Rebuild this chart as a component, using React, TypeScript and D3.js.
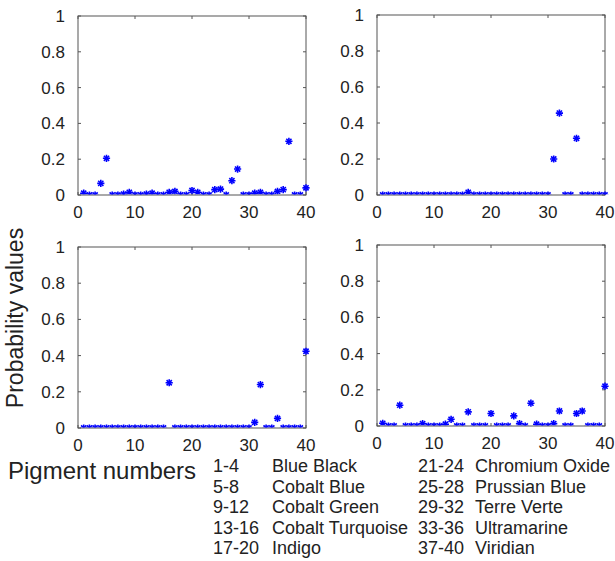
import React from "react";
import * as d3 from "d3";

const pigments: number[] = d3.range(1, 41);

const panel1Values: number[] = [0.01,0,0,0.065,0.205,0,0,0.005,0.015,0,0,0.005,0.01,0,0,0.015,0.02,0,0,0.025,0.015,0,0,0.03,0.033,0,0.08,0.145,0,0,0.01,0.015,0,0,0.02,0.03,0.30,0,0,0.04];
const panel2Values: number[] = [0,0,0,0,0,0,0,0,0,0,0,0,0,0,0,0.015,0,0,0,0,0,0,0,0,0,0,0,0,0,0,0.20,0.455,0,0,0.315,0,0,0,0,0];
const panel3Values: number[] = [0,0,0,0,0,0,0,0,0,0,0,0,0,0,0,0.25,0,0,0,0,0,0,0,0,0,0,0,0,0,0,0.031,0.24,0,0,0.053,0,0,0,0,0.424];
const panel4Values: number[] = [0.015,0,0,0.115,0,0,0,0.013,0,0,0,0.01,0.037,0,0,0.078,0,0,0,0.069,0,0,0,0.056,0.013,0,0.126,0.01,0,0,0.013,0.083,0,0,0.069,0.083,0,0,0,0.22];

const xTicks: number[] = [0, 10, 20, 30, 40];
const yTicks: number[] = [0, 0.2, 0.4, 0.6, 0.8, 1];

const legendRanges1: string[] = ["1-4", "5-8", "9-12", "13-16", "17-20"];
const legendNames1: string[] = ["Blue Black", "Cobalt Blue", "Cobalt Green", "Cobalt Turquoise", "Indigo"];
const legendRanges2: string[] = ["21-24", "25-28", "29-32", "33-36", "37-40"];
const legendNames2: string[] = ["Chromium Oxide", "Prussian Blue", "Terre Verte", "Ultramarine", "Viridian"];

const yLabel = "Probability values";
const xLabel = "Pigment numbers";

const panels = [
  { values: panel1Values, left: 78, right: 306, top: 16, bottom: 195 },
  { values: panel2Values, left: 377, right: 605, top: 15, bottom: 195 },
  { values: panel3Values, left: 78, right: 306, top: 247, bottom: 428 },
  { values: panel4Values, left: 377, right: 605, top: 245, bottom: 426 },
];

const FONT = "'Liberation Sans', Arial, sans-serif";
const AXIS = "#555";
const TEXT = "#222";
const BLUE = "#0000ff";

function fmt(v: number) {
  return v === 0 ? "0" : v === 1 ? "1" : String(v);
}

function Star({ x, y }: { x: number; y: number }) {
  const r = 3.6;
  const d = r * 0.72;
  return (
    <g stroke={BLUE} strokeWidth={1.6}>
      <line x1={x - r} y1={y} x2={x + r} y2={y} />
      <line x1={x} y1={y - r} x2={x} y2={y + r} />
      <line x1={x - d} y1={y - d} x2={x + d} y2={y + d} />
      <line x1={x - d} y1={y + d} x2={x + d} y2={y - d} />
    </g>
  );
}

function Panel({ p, idx }: { p: typeof panels[number]; idx: number }) {
  const x = d3.scaleLinear().domain([0, 40]).range([p.left, p.right]);
  const y = d3.scaleLinear().domain([0, 1]).range([p.bottom, p.top]);
  const tl = 3;
  const clipId = `clip${idx}`;
  return (
    <g>
      <defs>
        <clipPath id={clipId}>
          <rect x={p.left - 10} y={p.top - 10} width={p.right - p.left + 20} height={p.bottom - p.top + 9.2} />
        </clipPath>
      </defs>
      <rect x={p.left} y={p.top} width={p.right - p.left} height={p.bottom - p.top} fill="white" stroke={AXIS} strokeWidth={1} />
      {xTicks.map((t) => (
        <g key={"x" + t}>
          <line x1={x(t)} x2={x(t)} y1={p.bottom} y2={p.bottom - tl} stroke={AXIS} />
          <line x1={x(t)} x2={x(t)} y1={p.top} y2={p.top + tl} stroke={AXIS} />
          <text x={x(t)} y={p.bottom + 23} textAnchor="middle" fontSize={17} fill={TEXT} fontFamily={FONT}>
            {fmt(t)}
          </text>
        </g>
      ))}
      {yTicks.map((t) => (
        <g key={"y" + t}>
          <line x1={p.left} x2={p.left + tl} y1={y(t)} y2={y(t)} stroke={AXIS} />
          <line x1={p.right} x2={p.right - tl} y1={y(t)} y2={y(t)} stroke={AXIS} />
          <text x={p.left - 13} y={y(t) + 6} textAnchor="end" fontSize={17} fill={TEXT} fontFamily={FONT}>
            {fmt(t)}
          </text>
        </g>
      ))}
      <g clipPath={`url(#${clipId})`}>
        {p.values.map((v, i) => (
          <Star key={i} x={x(pigments[i])} y={y(v)} />
        ))}
      </g>
    </g>
  );
}

export default function App() {
  const rowY = (i: number) => 472 + i * 20.5;
  return (
    <svg width={615} height={561} style={{ position: "absolute", left: 0, top: 0 }} fontFamily={FONT}>
      <rect width={615} height={561} fill="white" />
      {panels.map((p, i) => (
        <Panel key={i} p={p} idx={i} />
      ))}
      <text transform="translate(23,318) rotate(-90)" textAnchor="middle" fontSize={23} fill={TEXT}>
        {yLabel}
      </text>
      <text x={8} y={479} fontSize={24} fill={TEXT}>
        {xLabel}
      </text>
      {legendRanges1.map((r, i) => (
        <g key={"l1" + i}>
          <text x={213} y={rowY(i)} fontSize={18} fill={TEXT}>{r}</text>
          <text x={272} y={rowY(i)} fontSize={18} fill={TEXT}>{legendNames1[i]}</text>
        </g>
      ))}
      {legendRanges2.map((r, i) => (
        <g key={"l2" + i}>
          <text x={418} y={rowY(i)} fontSize={18} fill={TEXT}>{r}</text>
          <text x={475} y={rowY(i)} fontSize={18} fill={TEXT}>{legendNames2[i]}</text>
        </g>
      ))}
    </svg>
  );
}
